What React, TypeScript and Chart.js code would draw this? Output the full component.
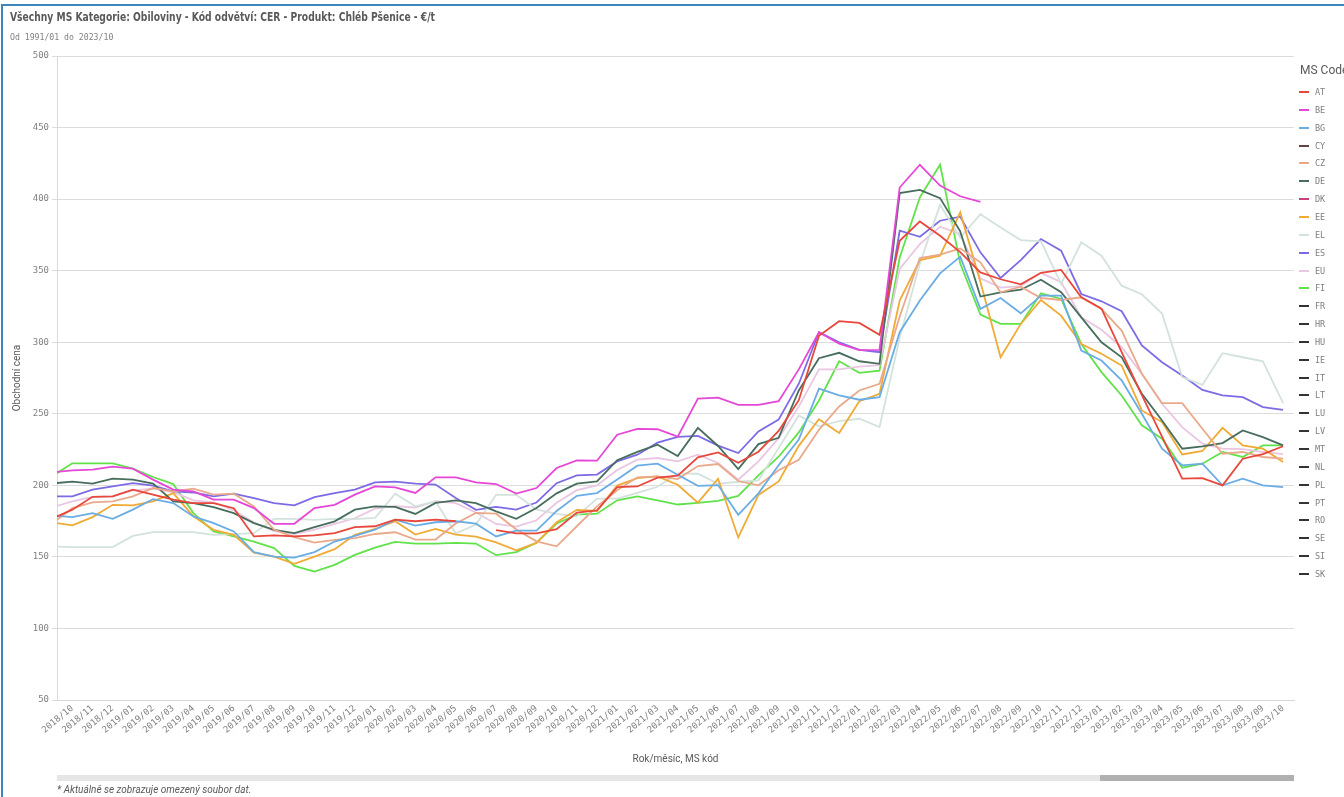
import React, { useEffect, useRef } from 'react';
import { Chart, registerables } from 'chart.js';

Chart.register(...registerables);

// Categories: the first one (2018/09) is only partly visible at the left edge (the view is scrolled)
const MONTHS = [
  '2018/09', '2018/10', '2018/11', '2018/12',
  '2019/01', '2019/02', '2019/03', '2019/04', '2019/05', '2019/06', '2019/07', '2019/08', '2019/09', '2019/10', '2019/11', '2019/12',
  '2020/01', '2020/02', '2020/03', '2020/04', '2020/05', '2020/06', '2020/07', '2020/08', '2020/09', '2020/10', '2020/11', '2020/12',
  '2021/01', '2021/02', '2021/03', '2021/04', '2021/05', '2021/06', '2021/07', '2021/08', '2021/09', '2021/10', '2021/11', '2021/12',
  '2022/01', '2022/02', '2022/03', '2022/04', '2022/05', '2022/06', '2022/07', '2022/08', '2022/09', '2022/10', '2022/11', '2022/12',
  '2023/01', '2023/02', '2023/03', '2023/04', '2023/05', '2023/06', '2023/07', '2023/08', '2023/09', '2023/10',
];

const Y_TICKS = [50, 100, 150, 200, 250, 300, 350, 400, 450, 500];

const AT = [176.8, 183, 192, 192.3, 197, 193.5, 190, 187.6, 187.6, 184, 164.3, 165, 164.3, 165, 166.6, 170.8, 171.4, 176, 174.9, 176, 174.9, null, 168.7, 166.4, 166.4, 169.4, 181, 182.5, 198.8, 199.2, 205.4, 206.7, 219.5, 223, 215.8, 223.5, 238, 259.5, 304.5, 314.7, 313.5, 305.2, 370.9, 384.4, 374.4, 363, 348.8, 344, 340.5, 348.5, 350.5, 331.4, 323.5, 293, 263, 234, 204.7, 205, 200, 218.6, 221.8, 227.3];
const BE = [209, 210.5, 211, 213.1, 211.7, 204, 197, 195.8, 190, 190, 184.1, 173.1, 173.1, 184.1, 186.4, 193.5, 199.3, 198.6, 194.7, 205.6, 205.6, 202.1, 200.9, 194.2, 198.1, 212.1, 217.4, 217.2, 235.4, 239.5, 239.2, 234, 260.6, 261.3, 256.2, 256.2, 258.8, 281, 307, 299, 294.5, 294.7, 408.1, 424, 409.5, 402, 398, null, null, null, null, null, null, null, null, null, null, null, null, null, null, null];
const BG = [179, 177.8, 180.6, 176.6, 183, 190.4, 187.6, 178.3, 173.6, 167.8, 153.3, 150.2, 149.5, 153.3, 160.7, 164.7, 169.1, 176, 171.9, 174.2, 174.9, 173.2, 164.3, 168.4, 168.4, 182.1, 192.7, 194.6, 204, 213.7, 215.1, 207.4, 199.6, 200.2, 179.4, 194.4, 214, 232, 267.5, 262.8, 259.8, 261.6, 307, 329.1, 348.1, 359.8, 323.3, 330.9, 320.2, 332.6, 332.6, 294.2, 287.2, 273.3, 250, 225.6, 214, 215.1, 200, 204.7, 200, 198.8];
const CY: (number | null)[] = [];
const CZ = [173.3, 184.1, 188.1, 188.8, 192.3, 198.1, 195.8, 197.7, 193.5, 194.2, 185.3, 168.9, 163.8, 160, 161.9, 163.1, 166, 167.2, 162.1, 162.1, 173.3, 180.7, 180.2, 169.1, 160.9, 157.4, 171.4, 185.3, 196.6, 205.6, 206.2, 204.4, 213.5, 214.9, 203, 200, 210.5, 217.9, 238.8, 255.1, 266.3, 270.9, 318, 358.8, 361.2, 365.5, 355.8, 334.9, 338.8, 330.9, 329.5, 331.4, 323.3, 308.1, 277.9, 257.4, 257.4, 239.5, 222.1, 223.3, 219.8, 218.6];
const DE = [201.3, 202.6, 201.2, 204.7, 204, 201.2, 188.8, 187.6, 184.8, 180.6, 173.6, 168.9, 166.6, 170.8, 174.8, 183, 185.3, 184.9, 180, 187.7, 189.5, 187.6, 181.8, 176.6, 184.1, 194.4, 201.2, 202.7, 217.6, 223.4, 228.4, 220.4, 240.1, 227.5, 211.3, 228.8, 233.2, 266.3, 288.8, 292.6, 286.7, 284.9, 404.2, 406.5, 400.7, 377.5, 331.9, 334.9, 336.7, 343.7, 334.9, 317.4, 300, 289.5, 264, 245.3, 225.6, 227.2, 229.5, 238.4, 233.7, 227.9];
const DK: (number | null)[] = [];
const EE = [174.1, 172, 177.8, 186.4, 186, 188.8, 194.6, 178.3, 168.9, 165.4, 153, 150.2, 145.1, 150.2, 155.4, 165.4, 169.5, 174.9, 165.6, 169.5, 165.6, 164.2, 160.2, 154.6, 159.8, 174.2, 182.9, 182.1, 199.8, 205, 206.2, 200.4, 187.9, 204.6, 163.6, 193.3, 202.7, 227.6, 246.2, 236.5, 258.8, 264, 329.1, 357.4, 360.5, 390.7, 342, 289.5, 312.8, 329.5, 318.6, 298.8, 291.9, 283.7, 252.3, 244.2, 221.6, 224, 240.2, 227.9, 225.6, 216.3];
const EL = [157.3, 156.8, 156.8, 156.8, 164.7, 167.3, 167.3, 167.3, 165.4, 165.9, 166.6, 176.6, 176.6, 175.9, 176.6, 176.4, 177.2, 194.2, 185.3, 188.8, 166.3, 172.6, 193.4, 193.4, 183.2, 180.1, 178.3, 190.7, 190.7, 194.8, 199, 208.3, 208.1, 201.1, 202.5, 203.5, 226, 248.8, 241.2, 244.9, 246.5, 240.7, 303, 355, 396, 373, 389.5, 380.2, 371.4, 370.5, 340.7, 369.8, 360.5, 339.5, 333.5, 320, 275.6, 270.2, 292.3, 289.5, 286.7, 257.4];
const ES = [192.3, 192.3, 197, 199.3, 201.6, 199.8, 195.8, 195, 192.3, 194.2, 191.1, 187.6, 186, 191.8, 194.6, 197, 202.1, 202.6, 201.2, 200.5, 191.2, 182.9, 185, 183.1, 188, 201.5, 207, 207.5, 216.7, 221.4, 229.8, 233.9, 234.6, 227.8, 222.6, 237.7, 245.9, 271, 307, 300, 294.7, 293, 377.9, 373.7, 384.9, 387.7, 362.8, 344.9, 357.4, 372.1, 364, 333.7, 328.6, 321.6, 297.7, 286, 276.7, 266.7, 262.8, 261.6, 254.7, 252.8];
const EU = [184.7, 188.8, 191.9, 192.3, 196.5, 197.7, 195.3, 189.5, 188, 182.6, 174, 168, 166, 169, 173, 177, 183.7, 185.5, 184.5, 189, 187.5, 181, 173, 171.2, 175.6, 187.8, 196.6, 200, 210.7, 217.9, 219.1, 216.7, 221.4, 215.6, 203.9, 216.7, 233, 255, 281, 281, 283, 284, 351.2, 368.6, 380.7, 375.6, 344.7, 338.2, 339.2, 348.5, 341.9, 317.4, 308.7, 296.5, 277.9, 257, 240.7, 229.1, 225.6, 225.3, 223.3, 221.8];
const FI = [206.4, 215.4, 215.4, 215.4, 211.7, 205.8, 200.9, 180.6, 167.8, 164.3, 160.7, 156.1, 143.7, 139.7, 144.4, 151.4, 156.5, 160.5, 159.3, 159.3, 159.8, 159.3, 151.2, 153.3, 159.8, 173.3, 179.5, 180.2, 189.5, 192.3, 189.5, 186.6, 187.7, 189.1, 192.6, 207, 220, 237, 259.3, 286.7, 278.6, 280.2, 359.3, 401.2, 424, 355, 319.3, 312.8, 312.8, 334.2, 330.2, 298.8, 279.1, 262.8, 241.9, 232.6, 212.3, 215.1, 223.3, 219.8, 227.9, 227.9];
const NO_DATA: (number | null)[] = [];

const SERIES = [
  { code: 'AT', color: '#e8473b', values: AT },
  { code: 'BE', color: '#e647d6', values: BE },
  { code: 'BG', color: '#6aade4', values: BG },
  { code: 'CY', color: '#5e4646', values: CY },
  { code: 'CZ', color: '#eaa98a', values: CZ },
  { code: 'DE', color: '#476e5c', values: DE },
  { code: 'DK', color: '#c8407c', values: DK },
  { code: 'EE', color: '#f0aa35', values: EE },
  { code: 'EL', color: '#d3e2dc', values: EL },
  { code: 'ES', color: '#7d6be6', values: ES },
  { code: 'EU', color: '#e9c6e2', values: EU },
  { code: 'FI', color: '#62e24a', values: FI },
  { code: 'FR', color: '#333333', values: NO_DATA },
  { code: 'HR', color: '#333333', values: NO_DATA },
  { code: 'HU', color: '#333333', values: NO_DATA },
  { code: 'IE', color: '#333333', values: NO_DATA },
  { code: 'IT', color: '#333333', values: NO_DATA },
  { code: 'LT', color: '#333333', values: NO_DATA },
  { code: 'LU', color: '#333333', values: NO_DATA },
  { code: 'LV', color: '#333333', values: NO_DATA },
  { code: 'MT', color: '#333333', values: NO_DATA },
  { code: 'NL', color: '#333333', values: NO_DATA },
  { code: 'PL', color: '#333333', values: NO_DATA },
  { code: 'PT', color: '#333333', values: NO_DATA },
  { code: 'RO', color: '#333333', values: NO_DATA },
  { code: 'SE', color: '#333333', values: NO_DATA },
  { code: 'SI', color: '#333333', values: NO_DATA },
  { code: 'SK', color: '#333333', values: NO_DATA },
];

// visible window of the (scrolled) category axis, in category-index units relative to 2018/10
const X_MIN = -0.76;
const X_MAX = 60.54;

const W = 1344;
const H = 797;
const GREY = '#595959';
const MONO = '"DejaVu Sans Mono", monospace';
const SANS = 'Roboto, "Noto Sans", sans-serif';

export default function App() {
  const ref = useRef<HTMLCanvasElement | null>(null);

  useEffect(() => {
    document.body.style.margin = '0';
    const canvas = ref.current;
    if (!canvas) return;
    const chart = new Chart(canvas, {
      type: 'line',
      data: {
        datasets: SERIES.map((s) => ({
          label: s.code,
          data: s.values.map((v, k) => ({ x: k - 1, y: v })),
          borderColor: s.color,
          backgroundColor: s.color,
          borderWidth: 1.8,
          pointRadius: 0,
          pointHoverRadius: 0,
          tension: 0,
          spanGaps: false,
        })),
      },
      options: {
        animation: false,
        responsive: false,
        maintainAspectRatio: false,
        events: [],
        layout: { padding: { left: 0, right: W - 1294, top: 56, bottom: 32 } },
        plugins: { legend: { display: false }, tooltip: { enabled: false } },
        scales: {
          x: {
            type: 'linear',
            min: X_MIN,
            max: X_MAX,
            afterBuildTicks: (axis: any) => {
              axis.ticks = MONTHS.slice(1).map((_, i) => ({ value: i }));
            },
            afterFit: (axis: any) => {
              axis.height = 65;
            },
            ticks: {
              autoSkip: false,
              minRotation: 40,
              maxRotation: 40,
              padding: 3,
              color: '#808080',
              font: { family: MONO, size: 9 },
              callback: (v: any) => MONTHS[Number(v) + 1] ?? '',
            },
            grid: { display: false, drawTicks: false },
            border: { display: true, color: '#d9d9d9' },
            title: {
              display: true,
              text: 'Rok/měsíc, MS kód',
              color: GREY,
              font: { family: SANS, size: 10 },
              padding: { top: 0, bottom: 0 },
            },
          },
          y: {
            min: 50,
            max: 500,
            afterBuildTicks: (axis: any) => {
              axis.ticks = Y_TICKS.map((v) => ({ value: v }));
            },
            afterFit: (axis: any) => {
              axis.width = 57;
            },
            ticks: {
              padding: 3,
              color: '#808080',
              font: { family: MONO, size: 9 },
            },
            grid: { color: '#dcdcdc', lineWidth: 1, drawTicks: true, tickLength: 5 },
            border: { display: true, color: '#d9d9d9' },
            title: {
              display: true,
              text: 'Obchodní cena',
              color: GREY,
              font: { family: SANS, size: 10 },
              padding: { top: 11, bottom: 0 },
            },
          },
        },
      },
    });
    return () => chart.destroy();
  }, []);

  return (
    <div style={{ position: 'relative', width: W, height: H, background: '#fff', overflow: 'hidden', fontFamily: SANS }}>
      <canvas ref={ref} width={W} height={H} style={{ position: 'absolute', left: 0, top: 0, width: W, height: H }} />
      <div style={{ position: 'absolute', left: 1, top: 4, width: W, height: H, borderLeft: '2px solid #3d86bd', borderTop: '2px solid #3d86bd', pointerEvents: 'none' }} />
      <div style={{ position: 'absolute', left: 10, top: 9, fontFamily: '"DejaVu Sans Condensed", "DejaVu Sans", sans-serif', fontWeight: 'bold', fontSize: 13, color: GREY, whiteSpace: 'nowrap', transform: 'scaleX(0.785)', transformOrigin: '0 0' }}>
        Všechny MS Kategorie: Obiloviny - Kód odvětví: CER - Produkt: Chléb Pšenice - €/t
      </div>
      <div style={{ position: 'absolute', left: 10, top: 31, fontFamily: MONO, fontSize: 9.5, color: '#808080', whiteSpace: 'nowrap', transform: 'scaleX(0.86)', transformOrigin: '0 0' }}>
        Od 1991/01 do 2023/10
      </div>
      <div style={{ position: 'absolute', left: 1300, top: 63, fontSize: 12, color: GREY, whiteSpace: 'nowrap' }}>MS Code</div>
      {SERIES.map((s, i) => (
        <div key={s.code} style={{ position: 'absolute', left: 1299, top: 92 + i * 17.85 - 6, height: 12, display: 'flex', alignItems: 'center' }}>
          <div style={{ width: 10, height: 2, background: s.color }} />
          <div style={{ marginLeft: 6, fontFamily: MONO, fontSize: 8.5, color: '#808080' }}>{s.code}</div>
        </div>
      ))}
      <div style={{ position: 'absolute', left: 57, top: 775, width: 1294 - 57, height: 6, background: '#e6e6e6' }} />
      <div style={{ position: 'absolute', left: 1100, top: 775, width: 1294 - 1100, height: 6, background: '#b0b0b0' }} />
      <div style={{ position: 'absolute', left: 57, top: 784, fontSize: 10, fontStyle: 'italic', color: GREY, whiteSpace: 'nowrap' }}>
        * Aktuálně se zobrazuje omezený soubor dat.
      </div>
    </div>
  );
}
